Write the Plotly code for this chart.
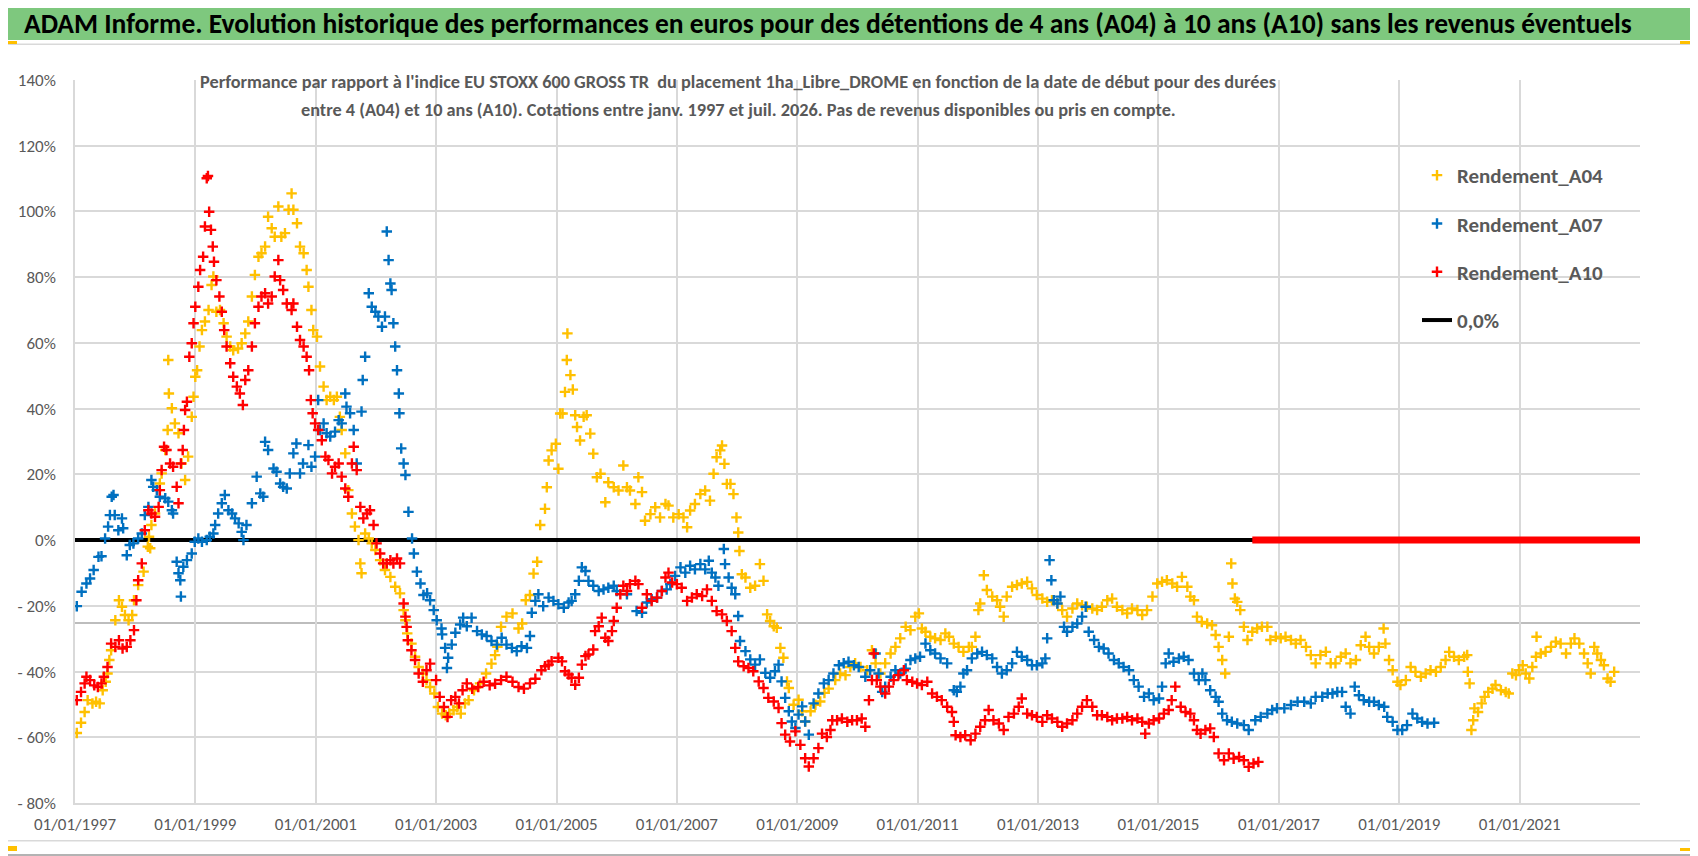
import pandas as pd
import plotly.graph_objects as go

# ─────────────────────────────────────────
# DONNÉES : (année décimale, performance %)
# ─────────────────────────────────────────
A04 = [
    (1997.03, -58.7), (1997.10, -55.6), (1997.16, -52.3), (1997.21, -48.7), (1997.29, -49.7),
    (1997.35, -49.2), (1997.41, -49.7), (1997.46, -45.7), (1997.51, -43.1), (1997.54, -40.6),
    (1997.57, -36.5), (1997.60, -33.5), (1997.67, -24.4), (1997.73, -18.3), (1997.78, -20.3),
    (1997.83, -22.8), (1997.89, -24.4), (1997.95, -22.8), (1997.98, -18.3), (1998.05, -13.7),
    (1998.14, -9.6), (1998.21, -2.0), (1998.23, 1.0), (1998.25, -2.5), (1998.27, 4.6),
    (1998.33, 8.1), (1998.41, 17.2), (1998.44, 20.3), (1998.50, 27.4), (1998.54, 33.5),
    (1998.56, 44.6), (1998.55, 54.8), (1998.61, 40.1), (1998.66, 35.5), (1998.72, 32.5),
    (1998.77, 23.3), (1998.83, 18.3), (1998.88, 25.4), (1998.94, 37.5), (1998.97, 43.6),
    (1999.00, 49.7), (1999.03, 51.7), (1999.07, 58.9), (1999.11, 63.9), (1999.16, 66.5),
    (1999.22, 70.0), (1999.27, 77.6), (1999.30, 80.2), (1999.35, 69.5), (1999.41, 70.0),
    (1999.47, 66.0), (1999.52, 61.9), (1999.58, 58.9), (1999.63, 57.8), (1999.71, 58.3),
    (1999.77, 59.9), (1999.83, 62.9), (1999.88, 66.5), (1999.94, 74.1), (1999.99, 80.7),
    (2000.05, 86.2), (2000.10, 87.3), (2000.16, 89.3), (2000.21, 98.4), (2000.27, 94.9),
    (2000.32, 92.3), (2000.38, 101.5), (2000.43, 92.3), (2000.49, 93.4), (2000.55, 100.5),
    (2000.60, 105.5), (2000.63, 100.5), (2000.69, 96.4), (2000.74, 89.3), (2000.80, 87.3),
    (2000.85, 82.2), (2000.88, 77.1), (2000.93, 70.0), (2000.96, 63.9), (2001.02, 61.9),
    (2001.07, 52.8), (2001.13, 46.7), (2001.18, 42.6), (2001.24, 43.6), (2001.30, 42.6),
    (2001.35, 43.6), (2001.40, 37.5), (2001.43, 33.5), (2001.49, 26.4), (2001.54, 15.2),
    (2001.60, 8.1), (2001.65, 4.1), (2001.71, 0.0), (2001.74, -7.1), (2001.76, -10.1),
    (2001.82, 2.0), (2001.88, 0.5), (2001.93, -1.0), (2001.99, -3.0), (2002.07, -6.1),
    (2002.15, -9.1), (2002.24, -11.2), (2002.32, -14.2), (2002.40, -16.2), (2002.46, -21.3),
    (2002.49, -24.4), (2002.52, -28.4), (2002.59, -31.5), (2002.65, -35.5), (2002.71, -38.6),
    (2002.78, -40.6), (2002.84, -42.6), (2002.90, -44.7), (2002.97, -46.7), (2003.03, -50.8),
    (2003.10, -52.8), (2003.16, -53.3), (2003.22, -52.8), (2003.29, -51.8), (2003.35, -50.8),
    (2003.41, -52.8), (2003.48, -49.7), (2003.54, -48.7), (2003.63, -45.7), (2003.73, -43.6),
    (2003.83, -40.6), (2003.92, -37.6), (2003.98, -35.0), (2004.02, -32.5), (2004.08, -26.4),
    (2004.17, -23.3), (2004.27, -22.3), (2004.37, -26.9), (2004.43, -25.4), (2004.49, -18.3),
    (2004.56, -16.7), (2004.62, -10.2), (2004.68, -6.6), (2004.73, 4.6), (2004.81, 9.5),
    (2004.84, 16.1), (2004.87, 24.2), (2004.92, 27.3), (2004.99, 29.3), (2005.03, 21.7),
    (2005.06, 38.5), (2005.10, 38.5), (2005.14, 45.1), (2005.17, 54.8), (2005.18, 62.9),
    (2005.23, 50.2), (2005.27, 45.8), (2005.31, 38.0), (2005.34, 34.4), (2005.39, 30.3),
    (2005.45, 37.5), (2005.50, 38.0), (2005.56, 32.4), (2005.61, 26.3), (2005.67, 19.1),
    (2005.73, 20.2), (2005.81, 11.5), (2005.86, 17.6), (2005.95, 16.1), (2006.03, 15.1),
    (2006.11, 22.7), (2006.17, 16.1), (2006.22, 15.1), (2006.31, 11.0), (2006.36, 19.1),
    (2006.42, 14.6), (2006.47, 5.9), (2006.56, 7.9), (2006.64, 10.0), (2006.72, 6.9),
    (2006.81, 11.0), (2006.86, 10.5), (2006.94, 6.9), (2007.03, 7.9), (2007.11, 6.9),
    (2007.17, 3.9), (2007.22, 9.0), (2007.30, 11.0), (2007.39, 14.0), (2007.47, 15.1),
    (2007.55, 12.0), (2007.61, 20.2), (2007.66, 25.2), (2007.72, 27.3), (2007.75, 28.8),
    (2007.79, 23.2), (2007.83, 17.1), (2007.89, 17.1), (2007.94, 14.0), (2007.99, 6.9),
    (2008.02, 2.3), (2008.04, -3.3), (2008.08, -10.4), (2008.14, -11.4), (2008.22, -14.5),
    (2008.30, -13.9), (2008.38, -7.3), (2008.44, -12.4), (2008.50, -22.6), (2008.55, -24.6),
    (2008.61, -26.2), (2008.66, -26.7), (2008.72, -32.8), (2008.77, -35.8), (2008.83, -43.0),
    (2008.86, -45.0), (2008.94, -50.1), (2009.02, -48.6), (2009.08, -52.1), (2009.13, -55.2),
    (2009.22, -52.1), (2009.30, -50.1), (2009.38, -49.1), (2009.45, -46.5), (2009.52, -45.2),
    (2009.63, -42.6), (2009.71, -40.6), (2009.80, -41.1), (2009.88, -38.6), (2009.96, -37.5),
    (2010.05, -38.6), (2010.16, -39.6), (2010.24, -33.5), (2010.30, -37.5), (2010.38, -40.6),
    (2010.46, -37.5), (2010.55, -34.5), (2010.63, -32.5), (2010.71, -29.9), (2010.80, -26.4),
    (2010.88, -27.4), (2010.96, -23.3), (2011.02, -22.3), (2011.07, -26.9), (2011.13, -27.9),
    (2011.21, -29.4), (2011.29, -29.9), (2011.38, -30.4), (2011.46, -28.4), (2011.52, -29.4),
    (2011.60, -31.5), (2011.68, -32.5), (2011.76, -34.0), (2011.85, -32.5), (2011.90, -32.5),
    (2011.96, -29.4), (2012.01, -21.3), (2012.04, -19.3), (2012.10, -10.7), (2012.15, -15.2),
    (2012.24, -17.2), (2012.32, -18.3), (2012.37, -20.3), (2012.43, -23.3), (2012.48, -17.2),
    (2012.57, -14.2), (2012.65, -13.7), (2012.73, -13.2), (2012.82, -12.7), (2012.90, -14.7),
    (2012.98, -16.7), (2013.07, -17.8), (2013.15, -18.8), (2013.23, -18.3), (2013.32, -19.3),
    (2013.40, -21.3), (2013.48, -23.3), (2013.57, -20.8), (2013.65, -19.3), (2013.73, -19.8),
    (2013.81, -20.3), (2013.90, -20.8), (2013.98, -21.3), (2014.06, -20.3), (2014.15, -18.3),
    (2014.23, -17.8), (2014.31, -20.3), (2014.40, -21.3), (2014.48, -22.3), (2014.56, -20.8),
    (2014.65, -21.3), (2014.73, -22.8), (2014.81, -21.3), (2014.90, -17.2), (2014.98, -13.2),
    (2015.06, -12.7), (2015.14, -12.2), (2015.23, -13.2), (2015.31, -14.2), (2015.39, -11.2),
    (2015.48, -14.2), (2015.53, -17.2), (2015.59, -18.3), (2015.64, -23.3), (2015.72, -24.9),
    (2015.81, -25.4), (2015.89, -25.9), (2015.95, -28.9), (2016.00, -32.5), (2016.06, -36.5),
    (2016.11, -40.6), (2016.17, -29.4), (2016.21, -7.1), (2016.23, -13.2), (2016.27, -17.8),
    (2016.31, -18.8), (2016.36, -21.3), (2016.42, -26.4), (2016.48, -30.4), (2016.56, -27.9),
    (2016.64, -26.9), (2016.72, -26.4), (2016.81, -26.4), (2016.86, -30.4), (2016.95, -29.4),
    (2017.03, -29.9), (2017.11, -29.4), (2017.20, -30.4), (2017.28, -31.5), (2017.36, -30.4),
    (2017.45, -32.5), (2017.53, -35.0), (2017.61, -37.5), (2017.69, -35.0), (2017.78, -34.0),
    (2017.86, -37.5), (2017.94, -37.5), (2018.03, -35.5), (2018.11, -34.5), (2018.19, -37.5),
    (2018.28, -36.5), (2018.36, -32.0), (2018.44, -29.4), (2018.50, -32.5), (2018.58, -34.5),
    (2018.66, -32.5), (2018.74, -26.9), (2018.77, -31.5), (2018.83, -36.5), (2018.89, -39.6),
    (2018.97, -43.1), (2019.02, -44.1), (2019.11, -42.6), (2019.19, -38.6), (2019.27, -40.1),
    (2019.36, -41.6), (2019.44, -40.6), (2019.52, -39.6), (2019.61, -40.1), (2019.69, -38.6),
    (2019.77, -36.5), (2019.83, -34.0), (2019.91, -35.5), (2019.99, -36.5), (2020.08, -35.5),
    (2020.13, -35.0), (2020.14, -40.1), (2020.17, -43.6), (2020.20, -57.8), (2020.23, -54.8),
    (2020.25, -51.2), (2020.31, -52.3), (2020.37, -49.7), (2020.42, -47.7), (2020.48, -46.2),
    (2020.55, -45.2), (2020.60, -44.1), (2020.69, -45.7), (2020.77, -46.2), (2020.82, -46.7),
    (2020.88, -40.6), (2020.94, -41.1), (2020.99, -39.6), (2021.05, -38.1), (2021.10, -40.6),
    (2021.16, -42.1), (2021.21, -38.6), (2021.27, -35.5), (2021.28, -29.4), (2021.35, -34.5),
    (2021.43, -34.0), (2021.52, -32.5), (2021.60, -30.9), (2021.68, -31.5), (2021.77, -34.5),
    (2021.85, -31.5), (2021.91, -29.9), (2021.99, -31.5), (2022.07, -34.5), (2022.13, -37.5),
    (2022.18, -40.6), (2022.24, -32.5), (2022.29, -34.5), (2022.35, -36.5), (2022.40, -38.1),
    (2022.46, -42.1), (2022.51, -43.1), (2022.57, -40.1),
]

A07 = [
    (1997.03, -20.1), (1997.11, -15.7), (1997.19, -13.2), (1997.25, -11.7), (1997.31, -9.1),
    (1997.39, -5.1), (1997.44, -4.9), (1997.50, 0.5), (1997.55, 4.1), (1997.58, 7.6),
    (1997.61, 13.2), (1997.64, 13.7), (1997.66, 7.6), (1997.72, 3.0), (1997.78, 6.6),
    (1997.80, 3.6), (1997.86, -4.6), (1997.91, -1.5), (1997.97, -1.0), (1998.05, 0.5),
    (1998.11, 2.0), (1998.16, 7.6), (1998.22, 10.1), (1998.27, 18.3), (1998.30, 16.2),
    (1998.36, 15.2), (1998.41, 13.2), (1998.50, 12.7), (1998.55, 11.7), (1998.61, 9.1),
    (1998.63, 8.1), (1998.69, -6.6), (1998.72, -10.1), (1998.75, -12.2), (1998.76, -17.2),
    (1998.80, -8.1), (1998.86, -6.1), (1998.94, -4.1), (1998.99, -0.5), (1999.05, 0.5),
    (1999.11, -0.5), (1999.19, 0.0), (1999.24, 1.0), (1999.30, 2.0), (1999.33, 4.6),
    (1999.38, 8.1), (1999.44, 11.2), (1999.49, 13.7), (1999.55, 9.1), (1999.61, 8.1),
    (1999.66, 6.6), (1999.72, 5.1), (1999.77, 2.5), (1999.80, 0.0), (1999.85, 4.6),
    (1999.94, 11.2), (2000.02, 19.3), (2000.08, 14.2), (2000.13, 13.2), (2000.16, 29.9),
    (2000.21, 27.4), (2000.30, 21.8), (2000.35, 20.8), (2000.41, 17.2), (2000.46, 16.2),
    (2000.52, 15.7), (2000.57, 20.3), (2000.63, 26.4), (2000.68, 29.4), (2000.74, 20.3),
    (2000.79, 23.3), (2000.88, 28.9), (2000.93, 22.3), (2000.99, 25.4), (2001.04, 42.6),
    (2001.07, 33.5), (2001.13, 35.5), (2001.18, 32.5), (2001.24, 31.5), (2001.32, 33.0),
    (2001.38, 36.5), (2001.43, 35.5), (2001.49, 44.6), (2001.51, 40.6), (2001.57, 38.6),
    (2001.63, 33.5), (2001.68, 23.3), (2001.76, 39.1), (2001.78, 48.7), (2001.82, 55.8),
    (2001.88, 75.1), (2001.93, 71.0), (2001.99, 69.5), (2002.04, 68.0), (2002.10, 64.9),
    (2002.15, 68.0), (2002.18, 93.9), (2002.21, 85.2), (2002.24, 78.1), (2002.26, 76.1),
    (2002.29, 66.0), (2002.32, 58.9), (2002.35, 51.7), (2002.38, 44.6), (2002.39, 38.6),
    (2002.42, 27.9), (2002.46, 23.3), (2002.49, 19.8), (2002.54, 8.6), (2002.60, 0.5),
    (2002.63, -4.1), (2002.68, -9.6), (2002.74, -13.2), (2002.79, -16.7), (2002.85, -16.2),
    (2002.90, -18.3), (2002.96, -21.3), (2003.01, -24.4), (2003.09, -26.9), (2003.10, -28.7),
    (2003.15, -32.8), (2003.18, -38.9), (2003.20, -35.8), (2003.26, -31.8), (2003.32, -28.2),
    (2003.40, -25.7), (2003.45, -23.6), (2003.51, -26.2), (2003.59, -23.6), (2003.68, -27.7),
    (2003.76, -28.7), (2003.84, -29.2), (2003.92, -30.7), (2004.01, -31.8), (2004.09, -29.7),
    (2004.17, -31.8), (2004.26, -32.8), (2004.34, -33.8), (2004.42, -32.3), (2004.51, -32.8),
    (2004.56, -29.2), (2004.59, -22.1), (2004.65, -18.5), (2004.70, -16.5), (2004.78, -20.1),
    (2004.87, -17.5), (2004.95, -18.5), (2005.03, -19.5), (2005.12, -20.6), (2005.20, -19.0),
    (2005.25, -18.5), (2005.31, -16.5), (2005.37, -12.4), (2005.42, -8.3), (2005.48, -9.4),
    (2005.53, -12.4), (2005.61, -13.9), (2005.70, -15.5), (2005.78, -15.0), (2005.86, -14.5),
    (2005.95, -13.9), (2006.00, -15.5), (2006.17, -16.5), (2006.33, -21.6), (2006.42, -22.1),
    (2006.50, -19.0), (2006.58, -18.0), (2006.67, -17.5), (2006.75, -15.5), (2006.83, -15.0),
    (2006.89, -13.4), (2006.97, -10.9), (2007.06, -8.3), (2007.14, -9.9), (2007.22, -7.8),
    (2007.30, -8.9), (2007.39, -7.3), (2007.47, -8.9), (2007.53, -6.3), (2007.58, -9.9),
    (2007.64, -11.4), (2007.69, -13.9), (2007.78, -2.7), (2007.80, -7.3), (2007.86, -11.4),
    (2007.91, -14.5), (2007.97, -16.5), (2008.02, -23.1), (2008.05, -30.7), (2008.14, -33.8),
    (2008.22, -36.3), (2008.30, -37.9), (2008.38, -36.3), (2008.47, -40.4), (2008.55, -41.9),
    (2008.63, -39.9), (2008.69, -37.9), (2008.74, -43.0), (2008.80, -48.0), (2008.86, -52.1),
    (2008.91, -55.2), (2008.97, -57.2), (2009.02, -53.1), (2009.08, -50.6), (2009.13, -55.2),
    (2009.19, -59.2), (2009.27, -49.7), (2009.35, -46.7), (2009.44, -43.6), (2009.52, -42.6),
    (2009.60, -40.6), (2009.69, -38.1), (2009.77, -37.5), (2009.85, -37.0), (2009.94, -38.1),
    (2010.02, -38.6), (2010.13, -41.6), (2010.21, -39.6), (2010.30, -34.5), (2010.35, -40.6),
    (2010.41, -46.2), (2010.46, -44.6), (2010.55, -41.6), (2010.63, -39.6), (2010.71, -40.6),
    (2010.80, -39.1), (2010.88, -36.5), (2010.96, -36.0), (2011.04, -35.5), (2011.13, -31.5),
    (2011.21, -33.5), (2011.29, -34.5), (2011.38, -36.0), (2011.49, -37.5), (2011.60, -45.7),
    (2011.65, -46.2), (2011.71, -44.6), (2011.76, -40.6), (2011.82, -39.6), (2011.90, -36.0),
    (2011.99, -34.5), (2012.07, -34.0), (2012.15, -35.0), (2012.24, -36.0), (2012.32, -38.6),
    (2012.40, -40.6), (2012.48, -39.6), (2012.57, -37.5), (2012.65, -34.0), (2012.73, -35.5),
    (2012.82, -36.5), (2012.90, -38.1), (2012.98, -38.1), (2013.07, -37.5), (2013.12, -36.0),
    (2013.15, -29.9), (2013.19, -6.1), (2013.22, -12.2), (2013.26, -18.3), (2013.32, -19.3),
    (2013.37, -17.2), (2013.43, -26.4), (2013.48, -27.9), (2013.57, -26.4), (2013.65, -25.4),
    (2013.73, -23.3), (2013.79, -20.3), (2013.84, -27.9), (2013.93, -30.4), (2014.01, -32.5),
    (2014.09, -33.0), (2014.17, -34.5), (2014.26, -36.5), (2014.34, -37.5), (2014.42, -38.6),
    (2014.51, -39.6), (2014.59, -42.6), (2014.67, -44.6), (2014.76, -47.7), (2014.84, -46.7),
    (2014.92, -48.7), (2015.01, -48.2), (2015.06, -44.6), (2015.12, -37.5), (2015.17, -34.5),
    (2015.25, -37.0), (2015.34, -36.0), (2015.42, -35.5), (2015.50, -36.5), (2015.59, -40.6),
    (2015.67, -42.6), (2015.73, -40.6), (2015.78, -42.6), (2015.86, -45.7), (2015.95, -47.7),
    (2016.00, -49.2), (2016.06, -52.8), (2016.14, -54.8), (2016.22, -55.3), (2016.31, -55.8),
    (2016.42, -56.3), (2016.50, -57.8), (2016.61, -54.8), (2016.70, -53.8), (2016.81, -52.8),
    (2016.89, -51.7), (2016.97, -51.2), (2017.09, -51.2), (2017.20, -50.2), (2017.31, -49.2),
    (2017.42, -49.2), (2017.53, -49.7), (2017.61, -47.7), (2017.72, -47.7), (2017.81, -46.7),
    (2017.89, -46.7), (2017.97, -46.2), (2018.05, -46.2), (2018.11, -50.7), (2018.19, -52.8),
    (2018.26, -44.6), (2018.33, -47.2), (2018.41, -48.7), (2018.50, -49.2), (2018.58, -49.2),
    (2018.66, -50.2), (2018.75, -50.7), (2018.80, -53.8), (2018.89, -55.3), (2018.97, -57.8),
    (2019.05, -57.8), (2019.13, -56.3), (2019.22, -52.8), (2019.30, -54.3), (2019.38, -55.3),
    (2019.47, -55.8), (2019.58, -55.6),
]

A10 = [
    (1997.03, -48.7), (1997.10, -46.2), (1997.16, -43.6), (1997.19, -41.6), (1997.25, -42.6),
    (1997.32, -44.2), (1997.38, -44.7), (1997.44, -43.6), (1997.48, -41.6), (1997.54, -38.6),
    (1997.60, -31.5), (1997.67, -32.5), (1997.73, -30.5), (1997.79, -33.0), (1997.86, -32.5),
    (1997.92, -30.5), (1997.98, -27.4), (1998.02, -18.3), (1998.05, -12.2), (1998.11, -7.1),
    (1998.16, 3.0), (1998.22, 9.1), (1998.27, 8.1), (1998.33, 7.1), (1998.39, 10.1),
    (1998.41, 15.2), (1998.44, 21.3), (1998.48, 28.4), (1998.52, 27.4), (1998.58, 23.3),
    (1998.63, 22.3), (1998.69, 16.2), (1998.72, 11.2), (1998.76, 23.3), (1998.79, 27.4),
    (1998.81, 33.5), (1998.83, 39.6), (1998.86, 42.1), (1998.90, 55.8), (1998.94, 59.9),
    (1998.97, 66.0), (1999.00, 71.0), (1999.05, 77.1), (1999.08, 82.2), (1999.13, 86.2),
    (1999.16, 95.4), (1999.19, 110.1), (1999.21, 110.8), (1999.23, 99.9), (1999.26, 94.4),
    (1999.29, 89.3), (1999.31, 84.7), (1999.35, 79.1), (1999.40, 74.1), (1999.44, 69.5),
    (1999.48, 63.9), (1999.52, 58.9), (1999.58, 53.8), (1999.63, 49.7), (1999.69, 46.7),
    (1999.74, 44.6), (1999.79, 41.1), (1999.83, 48.7), (1999.88, 51.7), (1999.94, 58.9),
    (1999.99, 66.0), (2000.05, 71.0), (2000.10, 74.1), (2000.16, 75.1), (2000.21, 72.0),
    (2000.27, 74.1), (2000.32, 80.2), (2000.38, 85.2), (2000.41, 79.1), (2000.46, 76.1),
    (2000.52, 72.0), (2000.60, 70.0), (2000.63, 72.0), (2000.69, 64.9), (2000.74, 60.9),
    (2000.80, 58.9), (2000.85, 55.8), (2000.89, 51.7), (2000.92, 42.6), (2000.95, 38.6),
    (2000.99, 35.5), (2001.04, 33.5), (2001.10, 30.4), (2001.16, 25.4), (2001.21, 24.4),
    (2001.27, 20.3), (2001.32, 22.3), (2001.38, 23.3), (2001.43, 19.3), (2001.49, 15.7),
    (2001.54, 13.2), (2001.60, 23.3), (2001.63, 28.4), (2001.68, 21.3), (2001.74, 10.1),
    (2001.79, 6.6), (2001.85, 8.1), (2001.90, 9.1), (2001.96, 4.6), (2002.01, -1.0),
    (2002.07, -4.1), (2002.12, -7.1), (2002.18, -7.1), (2002.24, -6.1), (2002.29, -7.1),
    (2002.35, -5.6), (2002.40, -7.1), (2002.46, -19.3), (2002.49, -23.3), (2002.51, -26.4),
    (2002.53, -30.5), (2002.59, -33.5), (2002.65, -36.5), (2002.71, -40.6), (2002.78, -43.1),
    (2002.84, -39.6), (2002.90, -37.6), (2003.00, -42.6), (2003.06, -47.7), (2003.13, -50.8),
    (2003.19, -53.8), (2003.25, -48.7), (2003.32, -47.7), (2003.38, -49.7), (2003.44, -45.7),
    (2003.51, -43.6), (2003.60, -45.2), (2003.70, -44.7), (2003.79, -43.1), (2003.89, -44.2),
    (2003.98, -43.7), (2004.08, -42.6), (2004.17, -41.6), (2004.27, -43.1), (2004.37, -44.7),
    (2004.46, -45.2), (2004.56, -43.6), (2004.65, -42.2), (2004.75, -39.6), (2004.81, -38.4),
    (2004.87, -37.9), (2004.92, -36.9), (2005.03, -35.8), (2005.09, -36.9), (2005.14, -39.9),
    (2005.20, -40.9), (2005.25, -41.9), (2005.31, -44.0), (2005.37, -41.9), (2005.42, -37.9),
    (2005.48, -35.3), (2005.53, -34.8), (2005.61, -33.3), (2005.64, -27.7), (2005.70, -26.2),
    (2005.75, -23.6), (2005.81, -29.7), (2005.86, -30.7), (2005.92, -27.7), (2005.95, -24.6),
    (2006.00, -20.6), (2006.06, -16.5), (2006.11, -13.9), (2006.17, -15.5), (2006.22, -13.4),
    (2006.31, -12.4), (2006.36, -13.4), (2006.42, -20.6), (2006.50, -16.5), (2006.58, -18.5),
    (2006.67, -17.5), (2006.75, -15.5), (2006.81, -11.4), (2006.86, -9.9), (2006.92, -12.9),
    (2007.00, -13.4), (2007.08, -14.5), (2007.17, -18.5), (2007.25, -17.5), (2007.33, -16.5),
    (2007.42, -17.0), (2007.50, -15.0), (2007.58, -18.5), (2007.66, -21.6), (2007.75, -22.6),
    (2007.83, -24.6), (2007.91, -27.7), (2007.97, -32.8), (2008.02, -36.9), (2008.11, -38.4),
    (2008.19, -38.9), (2008.27, -39.9), (2008.36, -43.0), (2008.44, -45.0), (2008.52, -48.0),
    (2008.61, -49.1), (2008.69, -51.1), (2008.74, -55.7), (2008.80, -59.2), (2008.88, -61.3),
    (2008.97, -58.2), (2009.05, -62.3), (2009.13, -66.4), (2009.19, -68.9), (2009.27, -66.4),
    (2009.35, -63.3), (2009.41, -58.9), (2009.49, -59.9), (2009.55, -57.8), (2009.58, -54.8),
    (2009.66, -54.8), (2009.74, -54.3), (2009.83, -55.3), (2009.91, -54.8), (2009.99, -54.8),
    (2010.07, -54.3), (2010.13, -56.8), (2010.19, -48.7), (2010.24, -42.6), (2010.27, -34.5),
    (2010.32, -42.6), (2010.38, -44.6), (2010.46, -46.7), (2010.52, -44.6), (2010.60, -42.6),
    (2010.68, -41.1), (2010.77, -39.6), (2010.82, -42.6), (2010.91, -43.1), (2010.99, -43.6),
    (2011.07, -44.1), (2011.16, -43.1), (2011.24, -46.7), (2011.32, -47.7), (2011.40, -48.7),
    (2011.49, -50.7), (2011.57, -52.3), (2011.60, -55.3), (2011.63, -59.4), (2011.71, -59.9),
    (2011.79, -59.4), (2011.88, -60.9), (2011.96, -58.9), (2012.04, -56.8), (2012.12, -54.8),
    (2012.18, -51.7), (2012.26, -54.8), (2012.35, -55.8), (2012.43, -57.8), (2012.51, -53.8),
    (2012.60, -52.8), (2012.68, -50.7), (2012.73, -48.2), (2012.82, -52.8), (2012.90, -53.3),
    (2012.98, -53.8), (2013.07, -55.3), (2013.15, -53.3), (2013.23, -54.3), (2013.32, -55.3),
    (2013.40, -56.8), (2013.48, -55.8), (2013.57, -54.8), (2013.65, -52.8), (2013.73, -50.7),
    (2013.81, -48.7), (2013.90, -50.7), (2013.98, -53.3), (2014.06, -53.3), (2014.15, -53.8),
    (2014.23, -54.8), (2014.31, -54.3), (2014.40, -54.3), (2014.48, -53.8), (2014.56, -54.8),
    (2014.65, -54.3), (2014.73, -55.3), (2014.78, -58.9), (2014.84, -55.8), (2014.92, -54.8),
    (2015.01, -54.3), (2015.09, -52.8), (2015.17, -51.7), (2015.22, -48.7), (2015.28, -44.6),
    (2015.37, -50.7), (2015.45, -52.3), (2015.53, -52.8), (2015.59, -54.8), (2015.64, -57.8),
    (2015.70, -58.9), (2015.78, -57.8), (2015.86, -57.3), (2015.92, -59.9), (2016.00, -64.9),
    (2016.09, -67.0), (2016.17, -64.9), (2016.25, -66.5), (2016.34, -66.0), (2016.42, -67.0),
    (2016.50, -69.0), (2016.58, -68.0), (2016.66, -67.5),
]

# A10 n'a plus de valeur après mi-2016 : affiché à 0 jusqu'à la fin
A10_ZERO = [(2016.56, 0.0), (2023.00, 0.0)]
# Série de référence 0,0 %
ZERO = [(1997.00, 0.0), (2023.00, 0.0)]
# Trait gris parasite visible sur l'image d'origine (vers -25 %)
STRAY_LEVEL = -25.2

X_TICKS = ["1997-01-01", "1999-01-01", "2001-01-01", "2003-01-01", "2005-01-01",
           "2007-01-01", "2009-01-01", "2011-01-01", "2013-01-01", "2015-01-01",
           "2017-01-01", "2019-01-01", "2021-01-01"]
Y_TICKS = [-80, -60, -40, -20, 0, 20, 40, 60, 80, 100, 120, 140]
Y_LABELS = ["- 80%", "- 60%", "- 40%", "- 20%", "0%", "20%", "40%", "60%", "80%",
            "100%", "120%", "140%"]

TITLE = ("ADAM Informe. Evolution historique des performances en euros pour des "
         "détentions de 4 ans (A04) à 10 ans (A10) sans les revenus éventuels")
SUB1 = ("Performance par rapport à l'indice EU STOXX 600 GROSS TR  du placement "
        "1ha_Libre_DROME en fonction de la date de début pour des durées")
SUB2 = ("entre 4 (A04) et 10 ans (A10). Cotations entre janv. 1997 et juil. 2026. "
        "Pas de revenus disponibles ou pris en compte.")

# ─────────────────────────────────────────
# OUTILS (coordonnées en pixels de la page)
# ─────────────────────────────────────────
OFF = 8                          # marge par défaut du <body> du navigateur
PAGE_W, PAGE_H = 1698, 856
L, R, T, B = 75, 1640, 80, 803   # zone de tracé dans la page
FONT = "Carlito, 'Liberation Sans Narrow', 'DejaVu Sans Condensed', Lato, sans-serif"
GREY_TXT = "#595959"


def to_dates(years):
    out = []
    for y in years:
        base = pd.Timestamp(int(y), 1, 1)
        out.append(base + pd.Timedelta(days=(y - int(y)) * 365.25))
    return out


def split(pairs):
    xs = to_dates([p[0] for p in pairs])
    ys = [p[1] for p in pairs]
    return xs, ys


def px_x(px):
    return (px - L) / (R - L)


def px_y(py):
    return (B - py) / (B - T)


def box(x0, y0, x1, y1, **kw):
    return dict(type="rect", xref="paper", yref="paper",
                x0=px_x(x0), x1=px_x(x1), y0=px_y(y1), y1=px_y(y0), **kw)


# ─────────────────────────────────────────
# FIGURE
# ─────────────────────────────────────────
fig = go.Figure()

x, y = split(ZERO)
fig.add_trace(go.Scatter(
    x=x, y=y, mode="lines", name="<b>0,0%</b>",
    line=dict(color="black", width=4),
    legendgroup="z", legendrank=4,
))

series = [
    ("Rendement_A04", A04, "#FFC000", 1),
    ("Rendement_A07", A07, "#0070C0", 2),
    ("Rendement_A10", A10, "#FF0000", 3),
]
for name, data, color, rank in series:
    x, y = split(data)
    fig.add_trace(go.Scatter(
        x=x, y=y, mode="markers", name="<b>" + name + "</b>",
        marker=dict(symbol="cross-thin", size=7.5, color=color,
                    line=dict(color=color, width=2.4)),
        legendgroup=name, legendrank=rank,
    ))

x, y = split(A10_ZERO)
fig.add_trace(go.Scatter(
    x=x, y=y, mode="lines", showlegend=False,
    line=dict(color="#FF0000", width=7),
))

NOLINE = dict(width=0)
YEL = "#FFC000"
shapes = [
    # bandeau vert du titre
    box(1, 2, 1693, 40, fillcolor="#7ec87e", line=NOLINE),
    # filets gris
    box(0, 43.5, 1692, 45, fillcolor="#d9d9d9", line=NOLINE),
    box(0, 840, 1692, 841.5, fillcolor="#d9d9d9", line=NOLINE),
    box(1691, 45, 1692.5, 841, fillcolor="#d9d9d9", line=NOLINE),
    # cadre extérieur
    box(0, 0, 1697, 855, line=dict(color="#9a9a9a", width=1.5)),
    # poignées jaunes
    box(0, 41, 17, 44, fillcolor=YEL, line=NOLINE),
    box(1680, 41, 1695, 44, fillcolor=YEL, line=NOLINE),
    box(1692, 41, 1695, 56, fillcolor=YEL, line=NOLINE),
    box(0, 846, 17, 851, fillcolor=YEL, line=NOLINE),
    box(1692, 800, 1695, 851, fillcolor=YEL, line=NOLINE),
    box(1680, 848, 1695, 851, fillcolor=YEL, line=NOLINE),
    # trait gris parasite
    dict(type="line", xref="paper", yref="y", x0=0, x1=1, y0=STRAY_LEVEL, y1=STRAY_LEVEL,
         line=dict(color="#bdbdbd", width=2), layer="between"),
    # caches blancs sous le sous-titre et sous la légende
    box(198, 66, 1292, 131, fillcolor="white", line=NOLINE, layer="between"),
    box(1385, 147, 1641, 347, fillcolor="white", line=NOLINE, layer="between"),
]

annotations = [
    dict(text="<b>" + TITLE + "</b>", xref="paper", yref="paper", x=px_x(22), y=px_y(23),
         xanchor="left", yanchor="middle", showarrow=False,
         font=dict(family=FONT, size=27.5, color="#000000")),
    dict(text="<b>" + SUB1 + "</b>", xref="paper", yref="paper", x=px_x(738), y=px_y(82),
         xanchor="center", yanchor="middle", showarrow=False,
         font=dict(family=FONT, size=18.3, color=GREY_TXT)),
    dict(text="<b>" + SUB2 + "</b>", xref="paper", yref="paper", x=px_x(738), y=px_y(110),
         xanchor="center", yanchor="middle", showarrow=False,
         font=dict(family=FONT, size=18.3, color=GREY_TXT)),
]

fig.update_layout(
    width=PAGE_W - OFF, height=PAGE_H - OFF,
    margin=dict(l=L - OFF, r=PAGE_W - R, t=T - OFF, b=PAGE_H - B, autoexpand=False),
    paper_bgcolor="white", plot_bgcolor="white",
    font=dict(family=FONT, color=GREY_TXT),
    shapes=shapes, annotations=annotations,
    legend=dict(
        x=px_x(1417), y=px_y(155), xanchor="left", yanchor="top",
        bgcolor="rgba(0,0,0,0)", tracegroupgap=18,
        font=dict(family=FONT, size=21, color=GREY_TXT),
    ),
    xaxis=dict(
        type="date", range=["1997-01-01", "2023-01-01"],
        tickvals=X_TICKS, tickformat="%d/%m/%Y",
        showgrid=True, gridcolor="#d9d9d9", gridwidth=1.5,
        showline=True, linecolor="#d9d9d9", linewidth=2,
        ticks="", ticklabelstandoff=5,
        tickfont=dict(family=FONT, size=17, color=GREY_TXT),
        zeroline=False,
    ),
    yaxis=dict(
        range=[-80, 140], tickvals=Y_TICKS, ticktext=Y_LABELS,
        showgrid=True, gridcolor="#d9d9d9", gridwidth=1.5,
        showline=True, linecolor="#d9d9d9", linewidth=1.5,
        ticks="", ticklabelstandoff=14, zeroline=False,
        tickfont=dict(family=FONT, size=17, color=GREY_TXT),
    ),
)

fig.write_html("out.html")
